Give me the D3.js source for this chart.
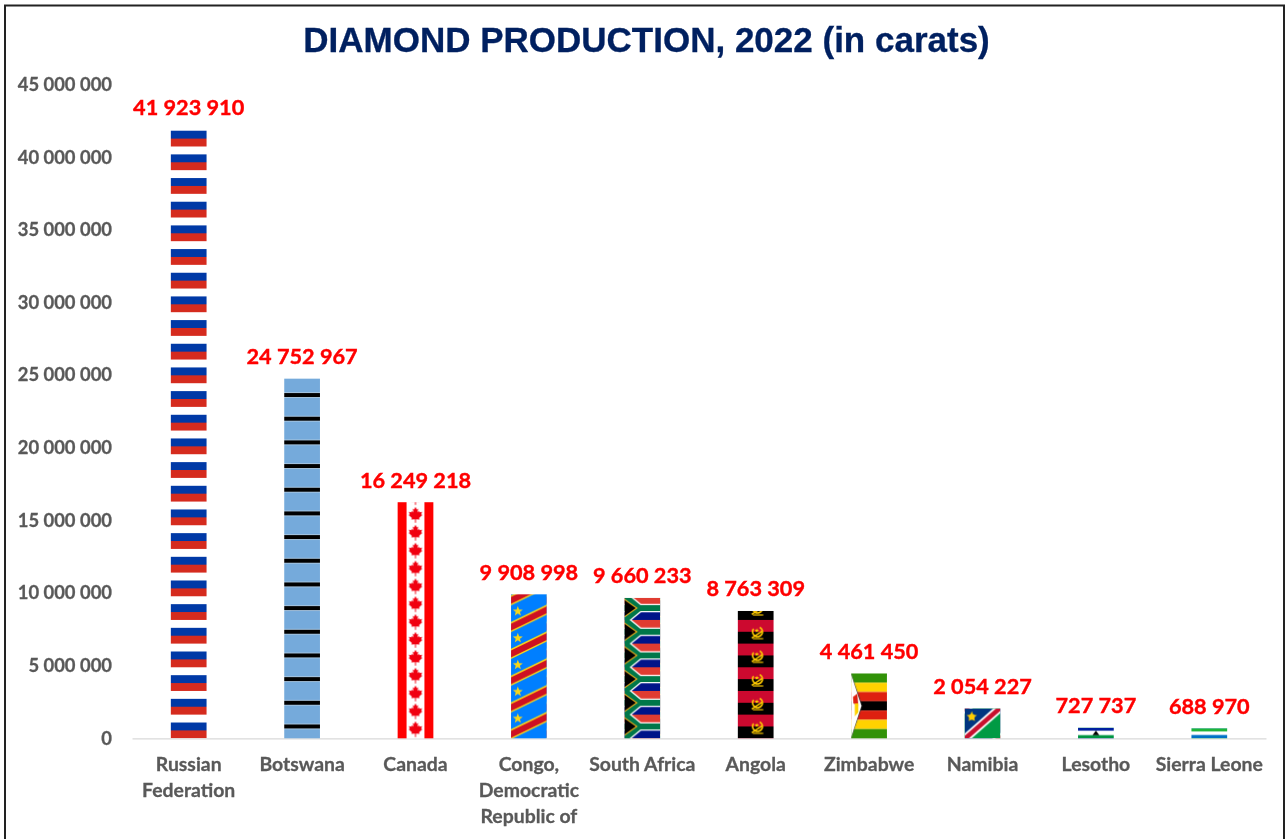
<!DOCTYPE html>
<html>
<head>
<meta charset="utf-8">
<script src="https://cdn.jsdelivr.net/npm/d3@7"></script>
<style>
  html, body { margin: 0; padding: 0; background: #fff; overflow: hidden; }
  svg { display: block; filter: blur(0.45px); }
</style>
</head>
<body>
<div id="chart"></div>
<script>
const categories = ["Russian Federation", "Botswana", "Canada", "Congo, Democratic Republic of", "South Africa", "Angola", "Zimbabwe", "Namibia", "Lesotho", "Sierra Leone"];
const values = [41923910, 24752967, 16249218, 9908998, 9660233, 8763309, 4461450, 2054227, 727737, 688970];
const categoryLines = [["Russian", "Federation"], ["Botswana"], ["Canada"], ["Congo,", "Democratic", "Republic of"], ["South Africa"], ["Angola"], ["Zimbabwe"], ["Namibia"], ["Lesotho"], ["Sierra Leone"]];
const yTicks = [0, 5000000, 10000000, 15000000, 20000000, 25000000, 30000000, 35000000, 40000000, 45000000];
const titleText = "DIAMOND PRODUCTION, 2022 (in carats)";

const width = 1286, height = 839;
const baseline = 738.3;

const svg = d3.select("#chart").append("svg")
    .attr("width", width)
    .attr("height", height);
const defs = svg.append("defs");

const x = d3.scaleBand().domain(categories).range([132, 1266]).paddingInner(0.685).paddingOuter(0.3425);
const y = d3.scaleLinear().domain([0, 45000000]).range([baseline, 84.5]);

const fmt = d3.formatLocale({ decimal: ".", thousands: " ", grouping: [3], currency: ["", ""] }).format(",");

// small drawing helpers
function band(g, w, y0, y1, color) {
  g.append("rect").attr("x", 0).attr("y", y0).attr("width", w).attr("height", y1 - y0).attr("fill", color);
}
function poly(g, pts, color) {
  return g.append("polygon").attr("points", pts.map(p => p.join(",")).join(" ")).attr("fill", color);
}
function star(cx, cy, r) {
  const pts = [];
  for (let i = 0; i < 10; i++) {
    const a = -Math.PI / 2 + i * Math.PI / 5;
    const rr = i % 2 ? r * 0.42 : r;
    pts.push([cx + rr * Math.cos(a), cy + rr * Math.sin(a)]);
  }
  return pts;
}

const leafHalf = [[0, -1], [0.17, -0.68], [0.33, -0.78], [0.25, -0.3], [0.42, -0.5], [0.5, -0.32], [0.82, -0.38], [0.72, -0.08], [0.85, 0], [0.45, 0.35], [0.52, 0.55], [0.06, 0.5], [0.06, 0.95]];
const leaf = leafHalf.concat(leafHalf.slice(1).reverse().map(p => [-p[0], p[1]]));

// flag painters, ratio = tile height / tile width, stretched flags fill the whole bar
const flags = {
  "Russian Federation": { ratio: 0.6627, draw(g, w, h) {
    band(g, w, 0, h / 3, "#fff");
    band(g, w, h / 3, 2 * h / 3, "#0039a6");
    band(g, w, 2 * h / 3, h, "#d52b1e");
  } },
  "Botswana": { ratio: 0.6627, draw(g, w, h) {
    band(g, w, 0, h, "#75aadb");
    band(g, w, h * 0.4, h * 0.6, "#fff");
    band(g, w, h * 0.415, h * 0.585, "#000");
  } },
  "Canada": { ratio: 1 / 2, draw(g, w, h) {
    band(g, w, 0, h, "#fff");
    g.append("rect").attr("width", w / 4).attr("height", h).attr("fill", "#ff0000");
    g.append("rect").attr("x", w * 0.75).attr("width", w / 4).attr("height", h).attr("fill", "#ff0000");
    poly(g, leaf.map(p => [w / 2 + p[0] * 8, h / 2 + p[1] * 8.2]), "#f00010");
  } },
  "Congo, Democratic Republic of": { ratio: 3 / 4, draw(g, w, h) {
    band(g, w, 0, h, "#007fff");
    [-h, 0, h].forEach(off => {
      poly(g, [[0, 0.85 * h - 0.19 * h + off], [w, 0.2 * h - 0.19 * h + off], [w, 0.2 * h + 0.19 * h + off], [0, 0.85 * h + 0.19 * h + off]], "#f7d618");
      poly(g, [[0, 0.85 * h - 0.13 * h + off], [w, 0.2 * h - 0.13 * h + off], [w, 0.2 * h + 0.13 * h + off], [0, 0.85 * h + 0.13 * h + off]], "#ce1021");
    });
    poly(g, star(w * 0.19, h * 0.26, 5.2), "#f7d618");
  } },
  "South Africa": { ratio: 0.6627, draw(g, w, h) {
    band(g, w, 0, h / 2, "#e03c31");
    band(g, w, h / 2, h, "#001489");
    const path = `M${-0.05 * w},${-0.08 * h}L${0.42 * w},${h / 2}L${-0.05 * w},${1.08 * h}M${0.42 * w},${h / 2}L${w},${h / 2}`;
    g.append("path").attr("d", path).attr("fill", "none").attr("stroke", "#fff").attr("stroke-width", h * 0.36);
    g.append("path").attr("d", path).attr("fill", "none").attr("stroke", "#007749").attr("stroke-width", h * 0.25);
    poly(g, [[0, 0.1 * h], [0.37 * w, h / 2], [0, 0.9 * h]], "#ffb81c");
    poly(g, [[0, 0.16 * h], [0.32 * w, h / 2], [0, 0.84 * h]], "#000");
  } },
  "Angola": { ratio: 0.6627, draw(g, w, h) {
    band(g, w, 0, h / 2, "#cc092f");
    band(g, w, h / 2, h, "#000");
    const cx = w * 0.55, cy = h * 0.5;
    const e = g.append("g").attr("transform", `translate(${cx},${cy}) scale(1.15)`);
    e.append("path").attr("d", d3.arc()({ innerRadius: 3.6, outerRadius: 5, startAngle: Math.PI * 0.15, endAngle: Math.PI * 1.7 })).attr("fill", "#ffcb00");
    e.append("path").attr("d", "M-5,5.5L4,-0.5").attr("stroke", "#ffcb00").attr("stroke-width", 1.3);
    e.append("path").attr("d", "M-4,6L5,6").attr("stroke", "#ffcb00").attr("stroke-width", 1);
    poly(e, star(-0.6, -1, 2.1), "#ffcb00");
  } },
  "Zimbabwe": { ratio: null, draw(g, w, h) {
    const cols = ["#319208", "#ffd200", "#de2010", "#000", "#de2010", "#ffd200", "#319208"];
    cols.forEach((c, i) => band(g, w, i * h / 7, (i + 1) * h / 7, c));
    poly(g, [[0, 0], [0.31 * w, h / 2], [0, h]], "#000");
    poly(g, [[0, 0.01 * h], [0.29 * w, h / 2], [0, 0.99 * h]], "#fff");
    poly(g, [[0.05 * w, 0.36 * h], [0.17 * w, 0.31 * h], [0.2 * w, 0.5 * h], [0.06 * w, 0.46 * h]], "#de2010");
    poly(g, [[0.1 * w, 0.46 * h], [0.2 * w, 0.46 * h], [0.2 * w, 0.6 * h], [0.1 * w, 0.66 * h]], "#ffd200");
  } },
  "Namibia": { ratio: null, draw(g, w, h) {
    poly(g, [[0, 0], [w, 0], [0, h]], "#003580");
    poly(g, [[w, 0], [w, h], [0, h]], "#009a44");
    poly(g, [[0, 0.84 * h], [0.8 * w, 0], [w, 0], [w, 0.16 * h], [0.2 * w, h], [0, h]], "#fff");
    poly(g, [[0, 0.92 * h], [0.88 * w, 0], [w, 0], [w, 0.08 * h], [0.12 * w, h], [0, h]], "#c8102e");
    poly(g, star(w * 0.2, h * 0.28, 5.5), "#ffcd00");
    g.append("circle").attr("cx", w * 0.2).attr("cy", h * 0.28).attr("r", 3).attr("fill", "#ffcd00");
  } },
  "Lesotho": { ratio: null, draw(g, w, h) {
    band(g, w, 0, 0.3 * h, "#00209f");
    band(g, w, 0.3 * h, 0.7 * h, "#fff");
    band(g, w, 0.7 * h, h, "#009543");
    poly(g, [[w / 2 - 3.4, 0.7 * h], [w / 2, 0.28 * h], [w / 2 + 3.4, 0.7 * h]], "#000");
  } },
  "Sierra Leone": { ratio: null, draw(g, w, h) {
    band(g, w, 0, h / 3, "#1eb53a");
    band(g, w, h / 3, 2 * h / 3, "#fff");
    band(g, w, 2 * h / 3, h, "#0072c6");
  } }
};

// one pattern per bar, tiles are stacked up from the baseline
categories.forEach((c, i) => {
  const w = x.bandwidth();
  const barH = y(0) - y(values[i]);
  const h = flags[c].ratio ? w * flags[c].ratio : barH;
  const p = defs.append("pattern")
      .attr("id", "flag" + i)
      .attr("patternUnits", "userSpaceOnUse")
      .attr("x", x(c))
      .attr("y", baseline - h)
      .attr("width", w)
      .attr("height", h);
  flags[c].draw(p, w, h);
});

// frame
svg.append("rect")
    .attr("x", 5).attr("y", 5.5)
    .attr("width", 1279).attr("height", 900)
    .attr("fill", "#fff")
    .attr("stroke", "#222")
    .attr("stroke-width", 2);

// title
svg.append("text")
    .attr("x", 646.5)
    .attr("y", 52)
    .attr("text-anchor", "middle")
    .style("font-family", "'Liberation Sans'")
    .style("font-weight", "bold")
    .style("font-size", "35px")
    .style("fill", "#002060")
    .style("stroke", "#002060")
    .style("stroke-width", "0.3px")
    .text(titleText);

// y axis
const yAxis = svg.append("g")
    .attr("transform", "translate(132,0)")
    .call(d3.axisLeft(y).tickValues(yTicks).tickFormat(fmt).tickSize(0).tickPadding(20));
yAxis.select(".domain").remove();
yAxis.selectAll("text")
    .style("font-family", "Lato")
    .style("font-weight", "bold")
    .style("font-size", "18.4px")
    .style("fill", "#595959")
    .style("stroke", "#595959")
    .style("stroke-width", "0.3px");

// x axis
const xAxis = svg.append("g")
    .attr("transform", `translate(0,${baseline})`)
    .call(d3.axisBottom(x).tickSize(0).tickFormat(""));
xAxis.select(".domain").attr("stroke", "#d9d9d9").attr("stroke-width", 1.2);
xAxis.selectAll(".tick text").each(function(d, i) {
  const t = d3.select(this).attr("y", 0).attr("dy", null);
  categoryLines[i].forEach((line, k) => {
    t.append("tspan")
        .attr("x", 0)
        .attr("y", 33 + k * 26)
        .text(line);
  });
});
xAxis.selectAll(".tick text")
    .style("font-family", "Lato")
    .style("font-weight", "bold")
    .style("font-size", "19.4px")
    .style("fill", "#595959")
    .style("stroke", "#595959")
    .style("stroke-width", "0.3px");

// bars
svg.selectAll("rect.bar")
    .data(categories)
    .enter()
    .append("rect")
    .attr("class", "bar")
    .attr("x", d => x(d))
    .attr("y", (d, i) => y(values[i]))
    .attr("width", x.bandwidth())
    .attr("height", (d, i) => y(0) - y(values[i]))
    .attr("fill", (d, i) => `url(#flag${i})`);

// value labels
svg.selectAll("text.value")
    .data(categories)
    .enter()
    .append("text")
    .attr("class", "value")
    .attr("x", d => x(d) + x.bandwidth() / 2)
    .attr("y", (d, i) => y(values[i]) - 14.5)
    .attr("text-anchor", "middle")
    .style("font-family", "Lato")
    .style("font-weight", "bold")
    .style("font-size", "21.7px")
    .style("fill", "#ff0000")
    .style("stroke", "#ff0000")
    .style("stroke-width", "0.4px")
    .text((d, i) => fmt(values[i]));
</script>
</body>
</html>
